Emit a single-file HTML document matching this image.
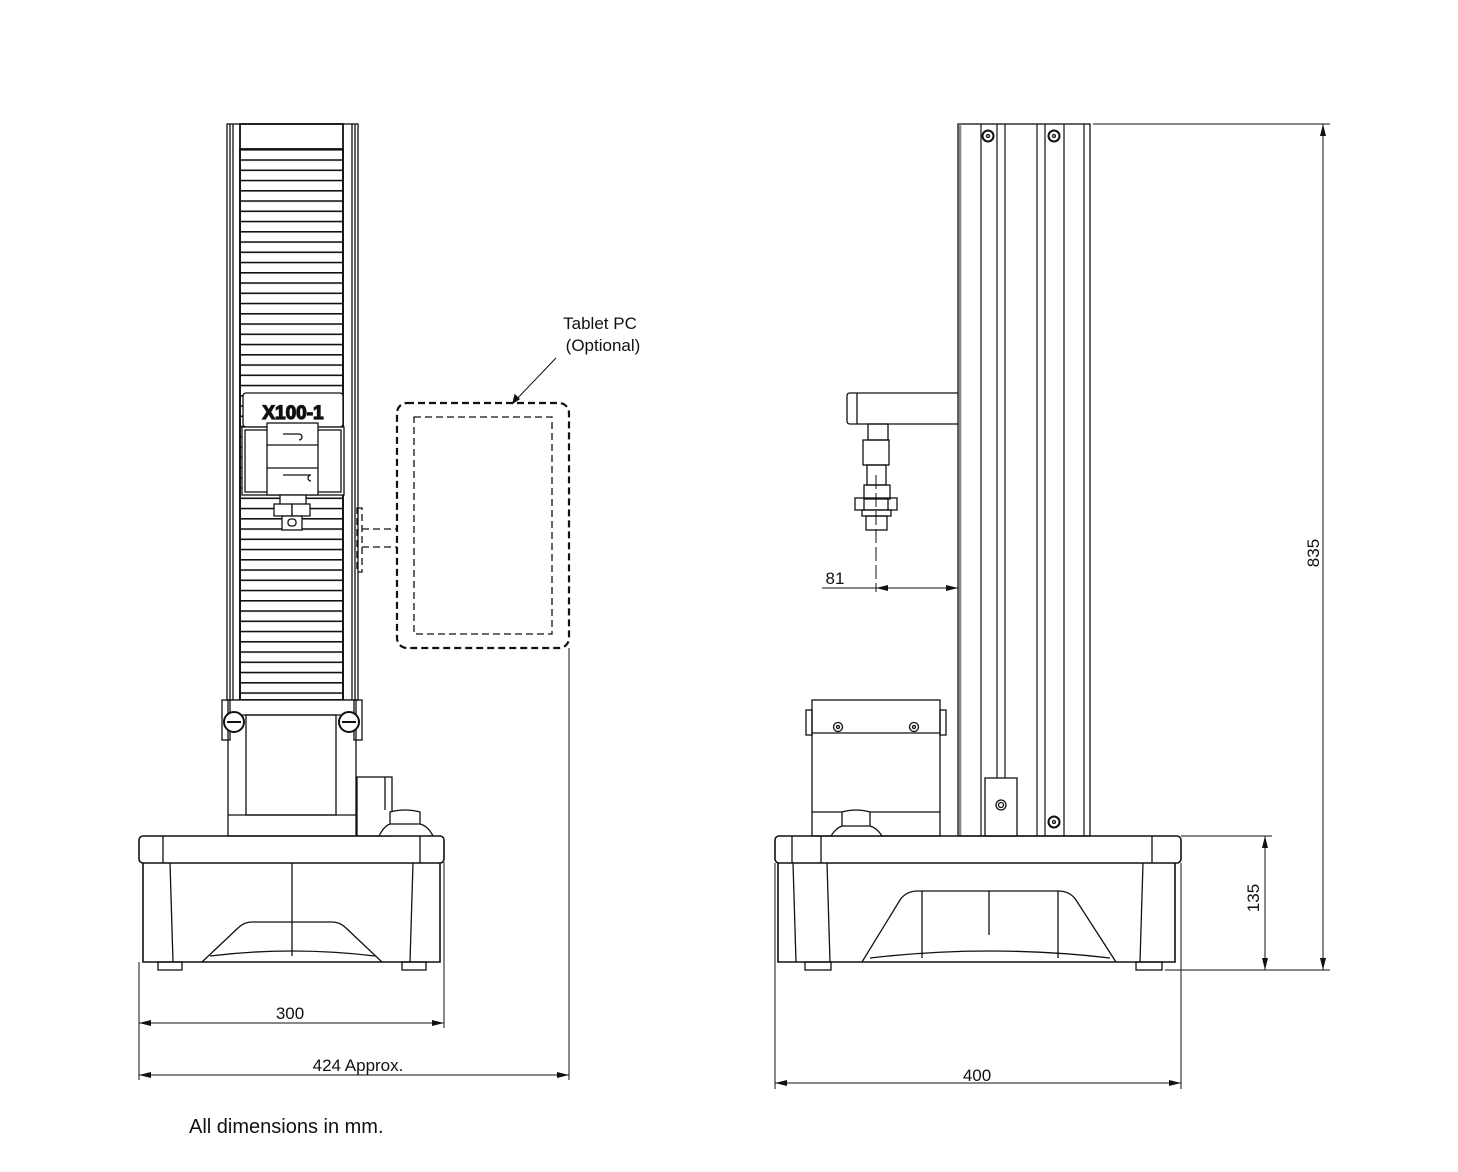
<!DOCTYPE html>
<html><head><meta charset="utf-8"><style>
html,body{margin:0;padding:0;background:#fff}
svg{display:block}
text{font-family:"Liberation Sans",sans-serif;fill:#111}
</style></head><body>
<svg width="1458" height="1172" viewBox="0 0 1458 1172" xmlns="http://www.w3.org/2000/svg">
<defs>
<pattern id="sl" x="0" y="149" width="20" height="10.25" patternUnits="userSpaceOnUse">
<line x1="0" y1="0.8" x2="20" y2="0.8" stroke="#111" stroke-width="1.6"/>
</pattern>
<marker id="ar" markerWidth="12" markerHeight="6" refX="12" refY="3" orient="auto-start-reverse" markerUnits="userSpaceOnUse">
<path d="M0,0 L12,3 L0,6 z" fill="#111"/>
</marker>
</defs>
<g fill="none" stroke="#111" stroke-width="1.3">
<!-- LEFT VIEW column -->
<rect x="227" y="124" width="131" height="576"/>
<line x1="230" y1="124" x2="230" y2="700"/><line x1="233" y1="124" x2="233" y2="700"/>
<line x1="352" y1="124" x2="352" y2="700"/><line x1="355" y1="124" x2="355" y2="700"/>
<rect x="240" y="124" width="103" height="576" stroke-width="1.8"/>
<rect x="240" y="149" width="103" height="551" fill="url(#sl)" stroke-width="1.8"/>
<!-- load cell -->
<rect x="243" y="393" width="100" height="34" rx="3" fill="#fff"/>
<rect x="242" y="427" width="102" height="68" fill="#fff"/>
<rect x="245" y="430" width="96" height="62"/>
<rect x="267" y="423" width="51" height="72" fill="#fff"/>
<line x1="267" y1="445" x2="318" y2="445"/><line x1="267" y1="468" x2="318" y2="468"/>
<path d="M283 434 h16 a3 3 0 0 1 0 6 M283 475 h28 a3 3 0 0 0 0 6"/>
<rect x="280" y="495" width="26" height="10" fill="#fff"/>
<rect x="274" y="504" width="18" height="12" fill="#fff"/><rect x="292" y="504" width="18" height="12" fill="#fff"/>
<rect x="282" y="516" width="20" height="14" fill="#fff"/>
<rect x="288" y="519" width="8" height="7" rx="3"/>
<!-- lower column -->
<rect x="228" y="700" width="128" height="136" fill="#fff"/>
<line x1="228" y1="715" x2="356" y2="715"/>
<rect x="246" y="715" width="90" height="100"/>
<line x1="228" y1="815" x2="356" y2="815"/>
<rect x="222" y="700" width="8" height="40"/><rect x="354" y="700" width="8" height="40"/>
<circle cx="234" cy="722" r="10" fill="#fff" stroke-width="2"/><line x1="227" y1="722" x2="241" y2="722" stroke-width="2"/>
<circle cx="349" cy="722" r="10" fill="#fff" stroke-width="2"/><line x1="342" y1="722" x2="356" y2="722" stroke-width="2"/>
<!-- estop -->
<rect x="357" y="777" width="35" height="59"/><line x1="385" y1="777" x2="385" y2="810"/>
<path d="M379 836 Q384 826 390 824 V812 Q405 808 420 812 V824 Q428 826 433 836" fill="#fff"/>
<line x1="390" y1="824" x2="420" y2="824"/>
<!-- base left -->
<rect x="139" y="836" width="305" height="27" rx="4" stroke-width="1.6"/>
<line x1="163" y1="836" x2="163" y2="863"/><line x1="420" y1="836" x2="420" y2="863"/>
<path d="M143 863 V962 H440 V863" stroke-width="1.6"/>
<line x1="170" y1="863" x2="173" y2="962"/><line x1="413" y1="863" x2="410" y2="962"/>
<line x1="292" y1="863" x2="292" y2="956"/>
<path d="M202 962 L238 928 Q244 922 252 922 H332 Q340 922 346 928 L382 962"/>
<path d="M210 956 Q292 946 375 956"/>
<rect x="158" y="962" width="24" height="8"/><rect x="402" y="962" width="24" height="8"/>
<!-- tablet -->
<g stroke-dasharray="7,4">
<rect x="397" y="403" width="172" height="245" rx="10" stroke-width="2.2"/>
<rect x="414" y="417" width="138" height="217"/>
<rect x="357" y="508" width="5" height="64"/>
<line x1="362" y1="529" x2="397" y2="529"/><line x1="362" y1="547" x2="397" y2="547"/>
</g>
<line x1="513" y1="403" x2="556" y2="358" stroke-width="1"/>
<path d="M513 403 l2 -8 l4 4 z" fill="#111"/>
<!-- dims left -->
<g stroke-width="1">
<line x1="139" y1="962" x2="139" y2="1080"/><line x1="444" y1="862" x2="444" y2="1028"/>
<line x1="569" y1="648" x2="569" y2="1080"/>
<line x1="139" y1="1023" x2="444" y2="1023" marker-start="url(#ar)" marker-end="url(#ar)"/>
<line x1="139" y1="1075" x2="569" y2="1075" marker-start="url(#ar)" marker-end="url(#ar)"/>
</g>

<!-- RIGHT VIEW column -->
<rect x="958" y="124" width="132" height="712"/>
<line x1="960" y1="124" x2="960" y2="836" stroke-width="2.5" stroke="#888"/>
<g stroke-width="1.2">
<line x1="981" y1="124" x2="981" y2="836"/><line x1="997" y1="124" x2="997" y2="836"/>
<line x1="1005" y1="124" x2="1005" y2="836"/><line x1="1037" y1="124" x2="1037" y2="836"/>
<line x1="1045" y1="124" x2="1045" y2="836"/><line x1="1064" y1="124" x2="1064" y2="836"/>
<line x1="1084" y1="124" x2="1084" y2="836"/>
</g>
<circle cx="988" cy="136" r="5.5" stroke-width="2"/><circle cx="988" cy="136" r="1.5"/>
<circle cx="1054" cy="136" r="5.5" stroke-width="2"/><circle cx="1054" cy="136" r="1.5"/>
<circle cx="1054" cy="822" r="5.5" stroke-width="2"/><circle cx="1054" cy="822" r="1.5"/>
<rect x="985" y="778" width="32" height="58" fill="#fff"/>
<circle cx="1001" cy="805" r="5"/><circle cx="1001" cy="805" r="2.5"/>
<!-- arm -->
<path d="M958 393 H850 Q847 393 847 396 V421 Q847 424 850 424 H958"/>
<line x1="857" y1="393" x2="857" y2="424"/>
<rect x="868" y="424" width="20" height="16"/>
<rect x="863" y="440" width="26" height="25"/>
<rect x="867" y="465" width="19" height="20"/>
<rect x="864" y="485" width="26" height="14"/>
<rect x="855" y="498" width="42" height="12"/><line x1="864" y1="498" x2="864" y2="510"/><line x1="888" y1="498" x2="888" y2="510"/>
<rect x="862" y="510" width="29" height="6"/>
<rect x="866" y="516" width="21" height="14"/>
<line x1="876" y1="475" x2="876" y2="592" stroke-dasharray="14,4" stroke-width="1"/>
<!-- controller -->
<rect x="812" y="700" width="128" height="136"/>
<line x1="812" y1="733" x2="940" y2="733"/><line x1="812" y1="812" x2="940" y2="812"/>
<rect x="806" y="710" width="6" height="25"/><rect x="940" y="710" width="6" height="25"/>
<circle cx="838" cy="727" r="4.5"/><circle cx="838" cy="727" r="1.5"/>
<circle cx="914" cy="727" r="4.5"/><circle cx="914" cy="727" r="1.5"/>
<path d="M831 836 Q836 828 842 826 V812 Q856 808 870 812 V826 Q877 828 882 836" fill="#fff"/>
<line x1="842" y1="826" x2="870" y2="826"/>
<!-- base right -->
<rect x="775" y="836" width="406" height="27" rx="4" stroke-width="1.6"/>
<line x1="792" y1="836" x2="792" y2="863"/><line x1="821" y1="836" x2="821" y2="863"/><line x1="1152" y1="836" x2="1152" y2="863"/>
<path d="M778 863 V962 H1175 V863" stroke-width="1.6"/>
<line x1="793" y1="863" x2="796" y2="962"/><line x1="827" y1="863" x2="830" y2="962"/><line x1="1143" y1="863" x2="1140" y2="962"/>
<path d="M862 962 L900 900 Q906 891 918 891 H1058 Q1070 891 1076 900 L1116 962"/>
<line x1="922" y1="891" x2="922" y2="958"/><line x1="1058" y1="891" x2="1058" y2="958"/>
<line x1="989" y1="891" x2="989" y2="935"/>
<path d="M870 958 Q990 944 1110 958"/>
<rect x="805" y="962" width="26" height="8"/><rect x="1136" y="962" width="26" height="8"/>
<!-- dims right -->
<g stroke-width="1">
<line x1="775" y1="863" x2="775" y2="1089"/><line x1="1181" y1="863" x2="1181" y2="1089"/>
<line x1="775" y1="1083" x2="1181" y2="1083" marker-start="url(#ar)" marker-end="url(#ar)"/>
<line x1="822" y1="588" x2="958" y2="588"/>
<line x1="876" y1="588" x2="958" y2="588" marker-start="url(#ar)" marker-end="url(#ar)"/>
<line x1="1093" y1="124" x2="1330" y2="124"/>
<line x1="1165" y1="970" x2="1330" y2="970"/>
<line x1="1181" y1="836" x2="1272" y2="836"/>
<line x1="1323" y1="124" x2="1323" y2="970" marker-start="url(#ar)" marker-end="url(#ar)"/>
<line x1="1265" y1="836" x2="1265" y2="970" marker-start="url(#ar)" marker-end="url(#ar)"/>
</g>
</g>
<text x="293" y="419" font-size="19" font-weight="bold" text-anchor="middle" fill="#fff" stroke="#111" stroke-width="1.2">X100-1</text>
<text x="600" y="329" font-size="17" text-anchor="middle">Tablet PC</text>
<text x="603" y="351" font-size="17" text-anchor="middle">(Optional)</text>
<text x="290" y="1019" font-size="17" text-anchor="middle">300</text>
<text x="358" y="1071" font-size="17" text-anchor="middle">424 Approx.</text>
<text x="189" y="1133" font-size="20">All dimensions in mm.</text>
<text x="835" y="584" font-size="17" text-anchor="middle">81</text>
<text x="977" y="1081" font-size="17" text-anchor="middle">400</text>
<text transform="translate(1319,553) rotate(-90)" font-size="17" text-anchor="middle">835</text>
<text transform="translate(1259,898) rotate(-90)" font-size="17" text-anchor="middle">135</text>
</svg>
</body></html>
